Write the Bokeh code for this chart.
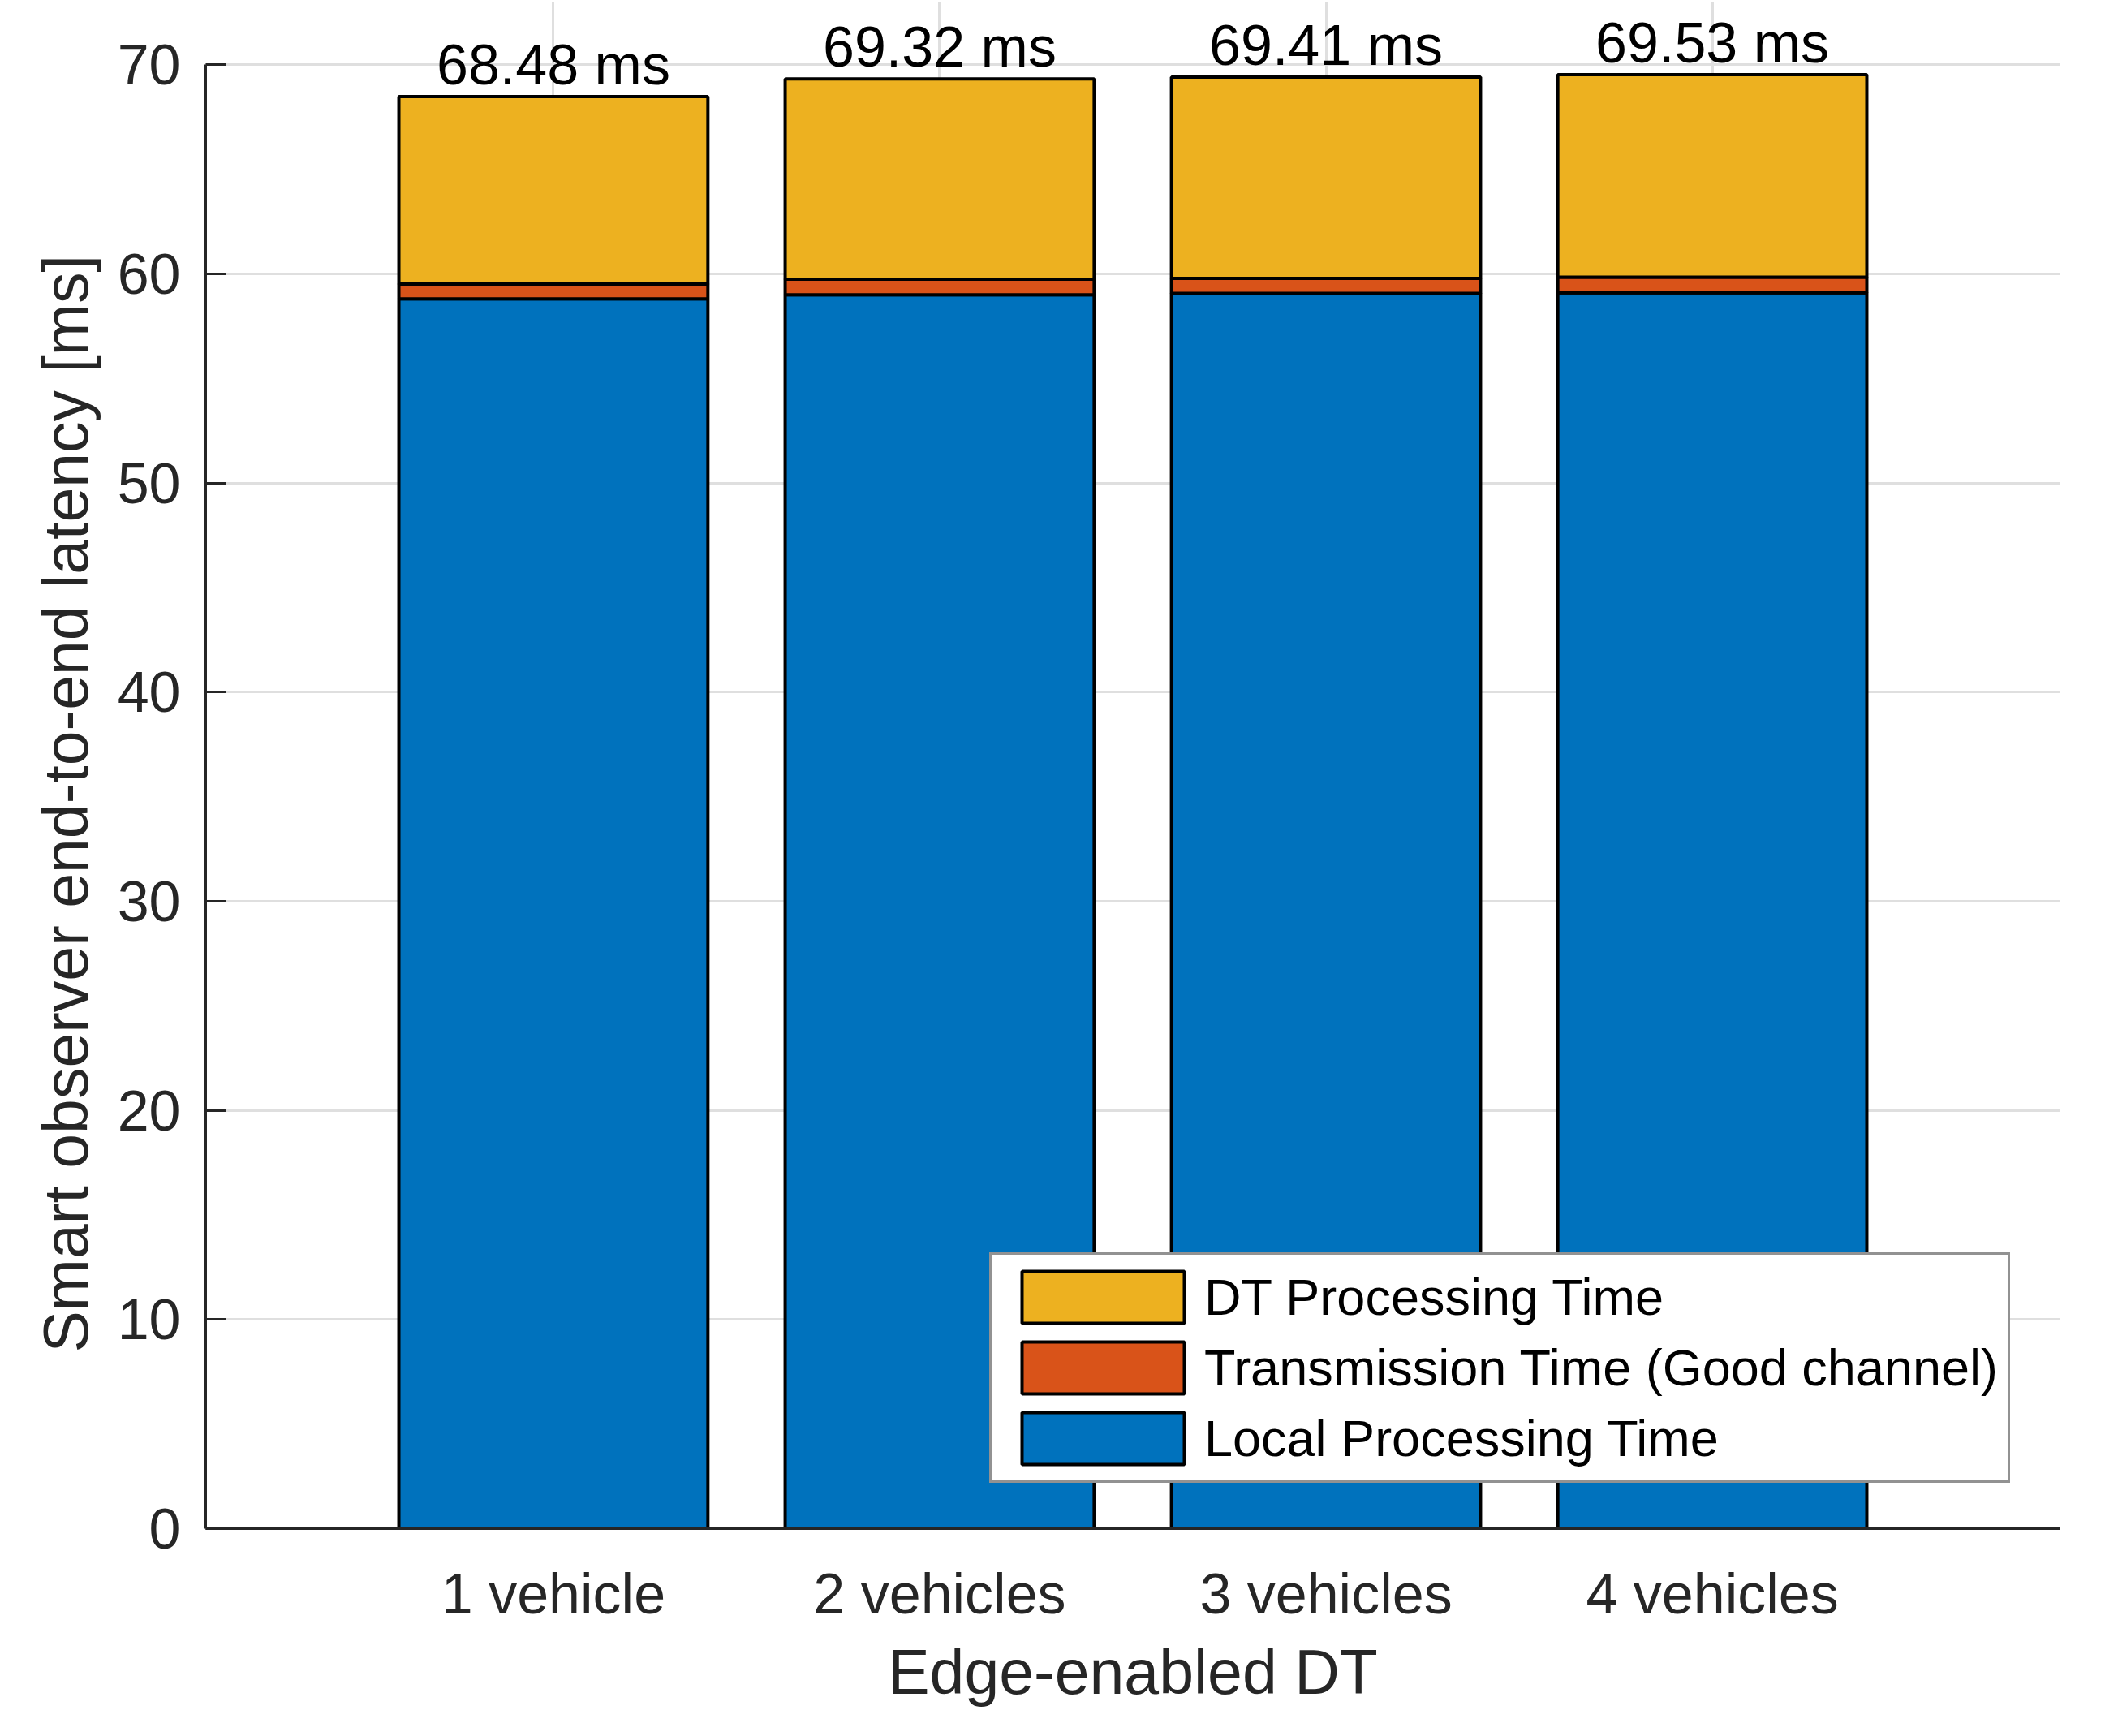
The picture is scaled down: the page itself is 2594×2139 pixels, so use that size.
from bokeh.plotting import figure
from bokeh.models import Range1d, FixedTicker, Legend, LegendItem, ColumnDataSource, LabelSet, Title
from bokeh.embed import file_html
from bokeh.resources import INLINE
from bokeh.core.properties import value

# ---- data ----
categories = ["1 vehicle", "2 vehicles", "3 vehicles", "4 vehicles"]
local_processing = [58.81, 59.00, 59.07, 59.10]
transmission = [0.70, 0.75, 0.72, 0.74]
dt_processing = [8.97, 9.57, 9.62, 9.69]
y_ticks = [0, 10, 20, 30, 40, 50, 60, 70]

FONT = "Liberation Sans"
TXT = "#262626"
BLUE, RED, YELLOW = "#0072BD", "#D95319", "#EDB120"

xs = list(range(1, len(categories) + 1))
b1 = local_processing
b2 = [a + b for a, b in zip(local_processing, transmission)]
b3 = [a + b for a, b in zip(b2, dt_processing)]
labels = [f"{t:.2f} ms" for t in b3]

# extra head-room above 70 so the value labels are not clipped
p = figure(width=2578, height=2123, output_backend="svg", toolbar_location=None,
           x_range=Range1d(0.1, 4.9), y_range=Range1d(0, 73),
           min_border_left=253, min_border_right=40, min_border_top=2, min_border_bottom=240)
p.outline_line_color = None
p.background_fill_color = "white"

src = ColumnDataSource(dict(x=xs, zero=[0] * 4, b1=b1, b2=b2, b3=b3, lab=labels))
r_local = p.vbar(x="x", width=0.8, bottom="zero", top="b1", source=src,
                 fill_color=BLUE, line_color="black", line_width=4)
r_trans = p.vbar(x="x", width=0.8, bottom="b1", top="b2", source=src,
                 fill_color=RED, line_color="black", line_width=4)
r_dt = p.vbar(x="x", width=0.8, bottom="b2", top="b3", source=src,
              fill_color=YELLOW, line_color="black", line_width=4)

labs = LabelSet(x="x", y="b3", text="lab", source=src, text_align="center",
                text_baseline="alphabetic", y_offset=15, text_font=value(FONT),
                text_font_size="70px", text_color="black")
p.add_layout(labs)

# axes
p.xaxis.ticker = FixedTicker(ticks=xs)
p.xaxis.major_label_overrides = {i: c for i, c in zip(xs, categories)}
p.yaxis.ticker = FixedTicker(ticks=y_ticks)
p.yaxis.bounds = (0, 70)
for ax in (p.xaxis, p.yaxis):
    ax.axis_line_color = TXT
    ax.axis_line_width = 3
    ax.major_tick_line_color = TXT
    ax.major_tick_line_width = 3
    ax.major_tick_in = 25
    ax.major_tick_out = 0
    ax.minor_tick_line_color = None
    ax.major_label_text_font = FONT
    ax.major_label_text_font_size = "70px"
    ax.major_label_text_color = TXT
    ax.axis_label_text_font = FONT
    ax.axis_label_text_font_size = "77px"
    ax.axis_label_text_color = TXT
    ax.axis_label_text_font_style = "normal"
p.xaxis.major_tick_line_color = None
p.xaxis.major_label_standoff = 41
p.yaxis.major_label_standoff = 31
p.xaxis.axis_label = "Edge-enabled DT"
p.xaxis.axis_label_standoff = 11

# y-axis title placed along the 0..70 span (not the padded frame)
ytitle = Title(text="Smart observer end-to-end latency [ms]", align="left", offset=217,
               standoff=36, text_font=FONT, text_font_size="77px", text_color=TXT,
               text_font_style="normal")
p.add_layout(ytitle, "left")

p.xgrid.ticker = FixedTicker(ticks=xs)
p.xgrid.bounds = (0, 70)
p.ygrid.ticker = FixedTicker(ticks=y_ticks[1:])
for g in (p.xgrid, p.ygrid):
    g.grid_line_color = "#dfdfdf"
    g.grid_line_width = 3

legend = Legend(items=[
    LegendItem(label="DT Processing Time", renderers=[r_dt]),
    LegendItem(label="Transmission Time (Good channel)", renderers=[r_trans]),
    LegendItem(label="Local Processing Time", renderers=[r_local]),
], location=(966, 56))
legend.label_text_font = FONT
legend.label_text_font_size = "63px"
legend.label_text_color = "black"
legend.glyph_width = 250
legend.glyph_height = 80
legend.spacing = 7
legend.padding = 12
legend.margin = 0
legend.label_standoff = 0
legend.border_line_color = TXT
legend.border_line_width = 3
legend.background_fill_color = "white"
legend.background_fill_alpha = 1.0
p.add_layout(legend, "center")

open("out.html", "w").write(file_html(p, INLINE))
